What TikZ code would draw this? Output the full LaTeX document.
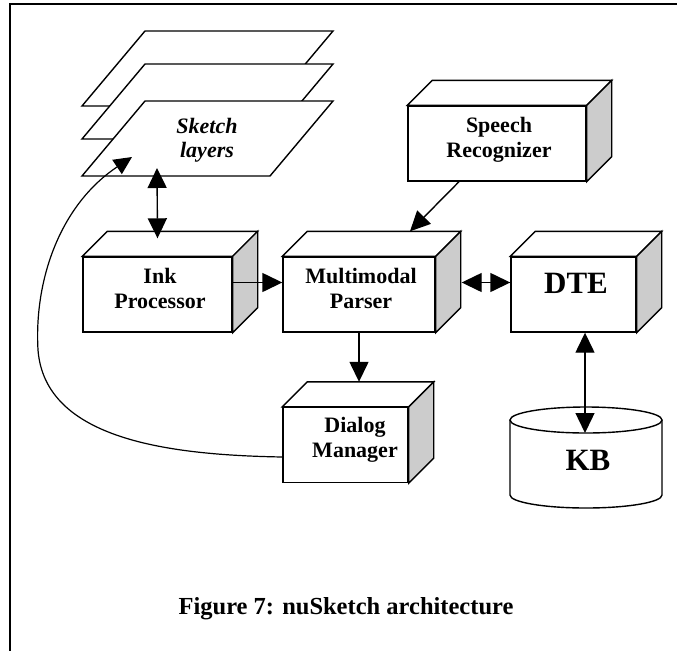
\documentclass[tikz,border=0pt]{standalone}
\usepackage{fontspec}
\setmainfont{Liberation Serif}
\usetikzlibrary{arrows.meta}
\newcommand\cubefaces[1]{%
  \draw[boxline, fill=white] (#1.north west) -- ([shift={(25,-25)}]#1.north west) -- ([shift={(25,-25)}]#1.north east) -- (#1.north east) -- cycle;
  \draw[boxline, fill=black!20] (#1.north east) -- ([shift={(25,-25)}]#1.north east) -- ([shift={(25,-25)}]#1.south east) -- (#1.south east) -- cycle;}
\tikzset{
  boxline/.style={line width=1.4pt, draw=black},
  front/.style={boxline, fill=white, rectangle, inner sep=0pt, minimum height=75pt},
  lbl/.style={align=center, inner sep=0pt, font=\fontsize{22}{25}\selectfont\bfseries},
  big/.style={inner sep=0pt, font=\fontsize{31}{34}\selectfont\bfseries, anchor=base},
  arr/.style={line width=1.4pt, -{Triangle[length=20pt,width=19pt]}},
  dbl/.style={line width=1.4pt, {Triangle[length=20pt,width=19pt]}-{Triangle[length=20pt,width=19pt]}},
  curvearr/.style={line width=1.2pt, -{Triangle[length=18pt,width=17pt]}}
}
\begin{document}
\begin{tikzpicture}[x=1pt, y=-1pt]
\useasboundingbox (0,0) rectangle (677,651);
% frame
\draw[line width=2.2pt] (677,4.2) -- (9.8,4.2) -- (9.8,651);
% sketch layers
\draw[boxline, fill=white] (82,106) -- (145,31) -- (333,31) -- (270,106) -- cycle;
\draw[boxline, fill=white] (82,139) -- (145,64) -- (333,64) -- (270,139) -- cycle;
\draw[boxline, fill=white] (82,176) -- (145,101) -- (333,101) -- (270,176) -- cycle;
\node[lbl, font=\fontsize{22}{24}\selectfont\bfseries\itshape] (sk) at (207,140) {Sketch\\layers};
\coordinate (laybot) at (157,176);
\coordinate (laytip) at (132,157);
% boxes
\node[front, minimum width=149pt] (ink) at (157.5,294.5) {};
\cubefaces{ink}
\node[front, minimum width=152pt] (mp) at (359,294.5) {};
\cubefaces{mp}
\node[front, minimum width=125pt] (dte) at (573.5,294.5) {};
\cubefaces{dte}
\node[front, minimum width=178pt] (sr) at (497,143.5) {};
\cubefaces{sr}
\node[front, minimum width=125pt] (dm) at (345.5,445) {};
\cubefaces{dm}
\node[lbl] (inkt) at (160,288) {Ink\\Processor};
\node[lbl] (mpt) at (361,288) {Multimodal\\Parser};
\node[lbl] (srt) at (499,140) {Speech\\Recognizer};
\node[lbl] (dmt) at (355,440) {Dialog\\Manager};
\node[big] (dtet) at (576,293) {DTE};
% KB cylinder
\draw[boxline, fill=white] (510,420) -- (510,495) arc[start angle=180, end angle=360, x radius=76pt, y radius=13pt] -- (662,420);
\draw[boxline] (586,420) ellipse [x radius=76pt, y radius=13pt];
\coordinate (kbtop) at (585,433);
\node[big] (kb) at (588,470) {KB};
% connectors
\draw[dbl] ([yshift=8pt]laybot) -- ([yshift=18pt]ink.north);
\draw[arr] ([yshift=12pt]ink.east) -- ([yshift=12pt]mp.west);
\draw[arr] ([xshift=-38pt]sr.south) -- ([xshift=51pt,yshift=25pt]mp.north);
\draw[dbl] ([xshift=26pt,yshift=12pt]mp.east) -- ([yshift=12pt]dte.west);
\draw[arr] (mp.south) -- ([yshift=25pt]mp.south |- dm.north);
\draw[dbl] ([xshift=11.5pt]dte.south) -- (kbtop);
\draw[curvearr] ([yshift=-12pt]dm.west) .. controls (170,455) and (45,440) .. (38,350) .. controls (34,280) and (60,205) .. (laytip);
% caption
\node[inner sep=0pt, font=\fontsize{24.5}{28}\selectfont\bfseries, anchor=base] (cap) at (346,614) {Figure 7: nuSketch architecture};
\end{tikzpicture}
\end{document}
